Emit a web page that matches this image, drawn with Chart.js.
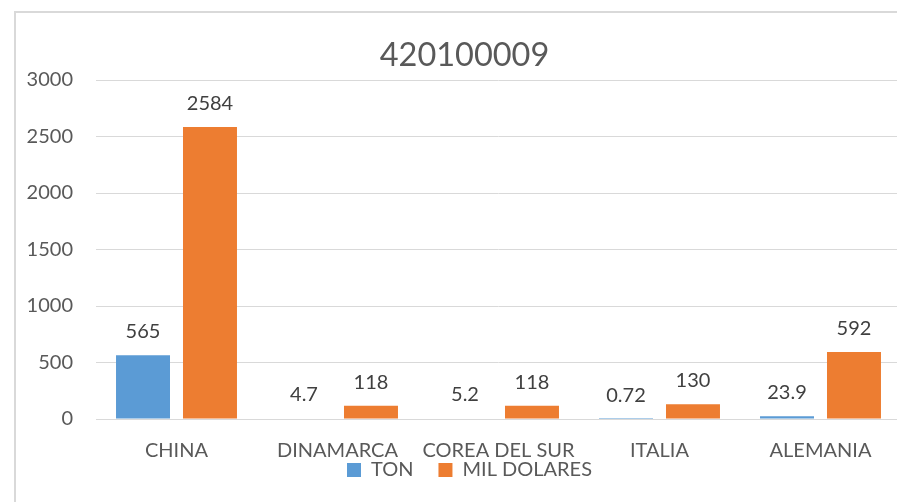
<!DOCTYPE html>
<html><head><meta charset="utf-8">
<script src="https://cdn.jsdelivr.net/npm/chart.js@4/dist/chart.umd.min.js"></script>
<style>
html,body{margin:0;padding:0;background:#fff;}
#wrap{position:absolute;left:0;top:0;width:897px;height:502px;overflow:hidden;background:#fff;}
#frame{position:absolute;left:14px;top:11px;width:902px;height:527px;border-left:2px solid #d9d9d9;border-top:2px solid #d9d9d9;box-sizing:border-box;}
#box{position:absolute;left:14px;top:11px;width:902px;height:527px;}
</style></head>
<body>
<div id="wrap">
<div id="frame"></div>
<div id="box"><canvas id="c" width="902" height="527"></canvas></div>
</div>
<script>
const title = "420100009";
const categories = ["CHINA", "DINAMARCA", "COREA DEL SUR", "ITALIA", "ALEMANIA"];
const tonValues = [565, 4.7, 5.2, 0.72, 23.9];
const milDolaresValues = [2584, 118, 118, 130, 592];
const seriesNames = ["TON", "MIL DOLARES"];
const yTicks = [0, 500, 1000, 1500, 2000, 2500, 3000];

const FONT = "Lato, 'Liberation Sans', sans-serif";

const dataLabels = {
  id: 'dataLabels',
  afterDatasetsDraw(chart) {
    const ctx = chart.ctx;
    ctx.save();
    ctx.font = "20px " + FONT;
    ctx.fillStyle = "#404040";
    ctx.textAlign = "center";
    ctx.textBaseline = "alphabetic";
    chart.data.datasets.forEach((ds, i) => {
      const meta = chart.getDatasetMeta(i);
      meta.data.forEach((bar, j) => {
        ctx.fillText(String(ds.data[j]), bar.x, bar.y - 17);
      });
    });
    ctx.restore();
  }
};

// Excel places the legend so that it overlaps the category label band,
// and centres title/legend on the whole chart frame rather than the plot.
const boxShift = {
  id: 'boxShift',
  afterLayout(chart) {
    const lg = chart.legend;
    if (lg) {
      lg.top -= 48; lg.bottom -= 48;
      lg.left += 12; lg.right += 12;
    }
    const tb = chart.titleBlock;
    if (tb) { tb.left += 7; tb.right += 7; }
  }
};

new Chart(document.getElementById('c'), {
  type: 'bar',
  data: {
    labels: categories,
    datasets: [
      { label: seriesNames[0], data: tonValues, backgroundColor: '#5B9BD5', borderWidth: 0,
        categoryPercentage: 0.832, barPercentage: 0.806 },
      { label: seriesNames[1], data: milDolaresValues, backgroundColor: '#ED7D31', borderWidth: 0,
        categoryPercentage: 0.832, barPercentage: 0.806 }
    ]
  },
  options: {
    responsive: false,
    animation: false,
    devicePixelRatio: 1,
    layout: { padding: { left: 0, right: 15, top: 0, bottom: 0 } },
    plugins: {
      title: { display: true, text: title, color: '#595959',
        font: { family: FONT, size: 32.5, weight: 'normal' },
        padding: { top: 25, bottom: 5 } },
      legend: { display: true, position: 'bottom',
        labels: { color: '#595959', font: { family: FONT, size: 20 },
          boxWidth: 14, boxHeight: 14, padding: 25 } },
      tooltip: { enabled: false }
    },
    scales: {
      x: {
        grid: { display: false, drawTicks: false },
        border: { display: true, color: '#d9d9d9', width: 1 },
        ticks: { color: '#595959', font: { family: FONT, size: 20, lineHeight: 1.2 }, padding: 20, maxRotation: 0, autoSkip: false }
      },
      y: {
        min: 0, max: 3000,
        afterBuildTicks(scale) { scale.ticks = yTicks.map(v => ({ value: v })); },
        grid: { color: '#d9d9d9', lineWidth: 1, drawTicks: false },
        border: { display: false },
        ticks: { color: '#595959', font: { family: FONT, size: 20 }, padding: 23,
          callback: (v) => String(v) },
        afterFit(scale) { scale.width = 82; }
      }
    }
  },
  plugins: [dataLabels, boxShift]
});
</script>
</body></html>
